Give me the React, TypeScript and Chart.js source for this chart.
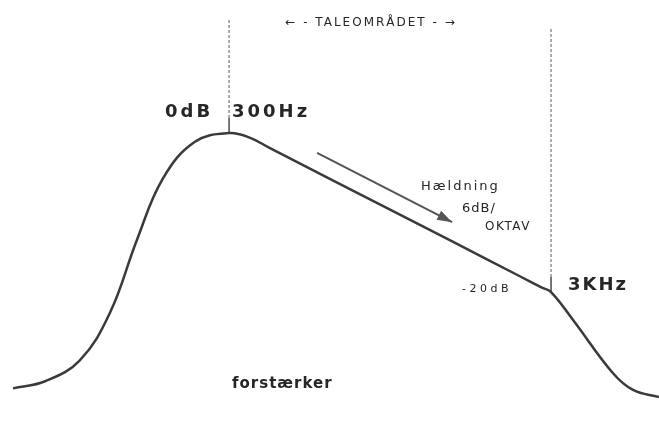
import React, { useEffect, useRef } from "react";
import { Chart, registerables } from "chart.js";

Chart.register(...registerables);

// Amplifier response: frequency (Hz, log axis) vs relative gain (dB)
const freqHz = [64, 80.5, 103, 128, 155, 187, 235, 300, 349, 402, 1000, 1459, 2400, 2800, 3000, 3511, 4674, 5392, 6492];
const gainDb = [-32.1, -31.2, -28.6, -22.6, -13.5, -5.7, -1.1, 0, -0.6, -1.9, -10.1, -13.5, -18.0, -19.4, -20, -23.5, -30.2, -32.3, -33.2];

// Speech-band markers (300 Hz at 0 dB, 3 kHz at -20 dB)
const markerFreqs = [300, 3000];
const markerDb = [0, -20];
const markerTickDb = 1.9; // solid tick above the curve
const markerTopDb = [14.2, 13.2]; // top of dashed guide

// Slope arrow (6 dB/octave)
const arrowFreqs = [563, 1479];
const arrowDb = [-2.5, -11.2];

const xMin = 58.3;
const xMax = 6492;
const yMin = -36.2;
const yMax = 16.73;

type Lbl = { text: string; x: number; y: number; font: string; spacing: string; align?: CanvasTextAlign; color?: string };
const labels: Lbl[] = [
  { text: "\u2190 - TALEOMR\u00c5DET - \u2192", x: 371, y: 26, font: "12px 'DejaVu Sans'", spacing: "2px", align: "center" },
  { text: "0dB", x: 165, y: 117, font: "bold 18px 'DejaVu Sans'", spacing: "3px" },
  { text: "300Hz", x: 232, y: 117, font: "bold 18px 'DejaVu Sans'", spacing: "3px" },
  { text: "H\u00e6ldning", x: 421, y: 190, font: "13px 'DejaVu Sans'", spacing: "2px" },
  { text: "6dB/", x: 462, y: 212, font: "13px 'DejaVu Sans'", spacing: "1px" },
  { text: "OKTAV", x: 485, y: 230, font: "12px 'DejaVu Sans'", spacing: "1.5px" },
  { text: "-20dB", x: 462, y: 292, font: "11px 'DejaVu Sans'", spacing: "3.5px" },
  { text: "3KHz", x: 568, y: 290, font: "bold 18px 'DejaVu Sans'", spacing: "2px" },
  { text: "forst\u00e6rker", x: 232, y: 388, font: "bold 15px 'DejaVu Sans'", spacing: "1px" },
];

const pts = (xs: number[], ys: number[]) => xs.map((x, i) => ({ x, y: ys[i] }));

export default function App() {
  const ref = useRef<HTMLCanvasElement | null>(null);

  useEffect(() => {
    if (!ref.current) return;
    const decorPlugin = {
      id: "decor",
      afterDatasetsDraw(chart: any) {
        const ctx = chart.ctx as CanvasRenderingContext2D;
        // arrowhead at end of slope arrow
        const meta = chart.getDatasetMeta(chart.data.datasets.length - 1);
        const p0 = meta.data[0];
        const p1 = meta.data[1];
        if (p0 && p1) {
          const ang = Math.atan2(p1.y - p0.y, p1.x - p0.x);
          const len = 15;
          const half = 5;
          ctx.save();
          ctx.fillStyle = "#555";
          ctx.beginPath();
          ctx.moveTo(p1.x, p1.y);
          ctx.lineTo(p1.x - len * Math.cos(ang) + half * Math.sin(ang), p1.y - len * Math.sin(ang) - half * Math.cos(ang));
          ctx.lineTo(p1.x - len * Math.cos(ang) - half * Math.sin(ang), p1.y - len * Math.sin(ang) + half * Math.cos(ang));
          ctx.closePath();
          ctx.fill();
          ctx.restore();
        }
        ctx.save();
        ctx.textBaseline = "alphabetic";
        for (const l of labels) {
          ctx.font = l.font;
          (ctx as any).letterSpacing = l.spacing;
          ctx.textAlign = l.align || "left";
          ctx.fillStyle = l.color || "#262626";
          ctx.fillText(l.text, l.x, l.y);
        }
        ctx.restore();
      },
    };

    const datasets: any[] = [
      {
        data: pts(freqHz, gainDb),
        borderColor: "#3a3a3a",
        borderWidth: 2.5,
        pointRadius: 0,
        tension: 0.4,
      },
    ];
    markerFreqs.forEach((f, i) => {
      datasets.push({
        data: [
          { x: f, y: markerDb[i] + markerTickDb },
          { x: f, y: markerTopDb[i] },
        ],
        borderColor: "#8a8a8a",
        borderWidth: 1.4,
        borderDash: [3, 2],
        pointRadius: 0,
      });
      datasets.push({
        data: [
          { x: f, y: markerDb[i] },
          { x: f, y: markerDb[i] + markerTickDb },
        ],
        borderColor: "#555",
        borderWidth: 1.6,
        pointRadius: 0,
      });
    });
    datasets.push({
      data: pts(arrowFreqs, arrowDb),
      borderColor: "#555",
      borderWidth: 2,
      pointRadius: 0,
    });

    const chart = new Chart(ref.current, {
      type: "line",
      data: { datasets },
      options: {
        responsive: false,
        animation: false,
        layout: { padding: 0 },
        plugins: { legend: { display: false }, tooltip: { enabled: false } },
        scales: {
          x: { type: "logarithmic", min: xMin, max: xMax, display: false },
          y: { type: "linear", min: yMin, max: yMax, display: false },
        },
      },
      plugins: [decorPlugin],
    } as any);
    return () => chart.destroy();
  }, []);

  return (
    <div style={{ position: "absolute", left: 0, top: 0, width: 659, height: 421, background: "#fff" }}>
      <canvas ref={ref} width={659} height={421} />
    </div>
  );
}
